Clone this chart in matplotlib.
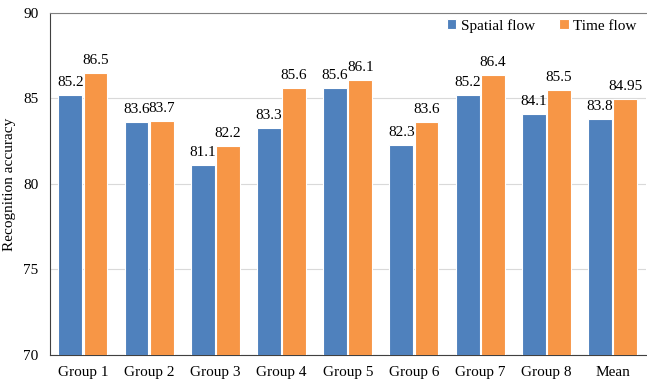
import numpy as np
import matplotlib.pyplot as plt

plt.rcParams['font.family'] = ['Liberation Serif', 'DejaVu Serif']

groups = ["Group 1", "Group 2", "Group 3", "Group 4", "Group 5",
          "Group 6", "Group 7", "Group 8", "Mean"]
spatial = [85.2, 83.6, 81.1, 83.3, 85.6, 82.3, 85.2, 84.1, 83.8]
temporal = [86.5, 83.7, 82.2, 85.6, 86.1, 83.6, 86.4, 85.5, 84.95]

blue = "#4F81BD"
orange = "#F79646"


def main():
    fig = plt.figure(figsize=(6.47, 3.82), dpi=100)
    ax = fig.add_axes([0.077, 0.071, 0.921, 0.895])

    x = np.arange(len(groups))
    w = 0.36
    b1 = ax.bar(x - 0.19, spatial, w, color=blue, edgecolor="white",
                linewidth=0.8, label="Spatial flow", zorder=3)
    b2 = ax.bar(x + 0.19, temporal, w, color=orange, edgecolor="white",
                linewidth=0.8, label="Time flow", zorder=3)

    for bars, vals in ((b1, spatial), (b2, temporal)):
        for r, v in zip(bars, vals):
            ax.text(r.get_x() + r.get_width() / 2, v + 0.35, f"{v:g}",
                    ha="center", va="bottom", fontsize=11)

    ax.set_xlim(-0.5, len(groups) - 0.5)
    ax.set_ylim(70, 90)
    ax.set_yticks([70, 75, 80, 85, 90])
    ax.set_xticks(x)
    ax.set_xticklabels(groups)
    ax.tick_params(length=0, labelsize=11, pad=8)
    ax.tick_params(axis="y", pad=8)
    ax.yaxis.grid(True, color="#d9d9d9", linewidth=0.8, zorder=0)
    ax.set_ylabel("Recognition accuracy", fontsize=11)
    ax.yaxis.set_label_coords(-0.056, 0.5)

    ax.spines["right"].set_visible(False)
    ax.spines["top"].set_color("#808080")
    ax.spines["left"].set_color("#404040")
    ax.spines["bottom"].set_color("#404040")

    ax.legend(loc="upper right", bbox_to_anchor=(1.0, 1.01), ncol=2,
              frameon=False, fontsize=11, handlelength=0.6,
              handleheight=0.6, handletextpad=0.3, columnspacing=1.6,
              borderaxespad=0.2)

    fig.savefig("out.png", dpi=100)


if __name__ == "__main__":
    main()
